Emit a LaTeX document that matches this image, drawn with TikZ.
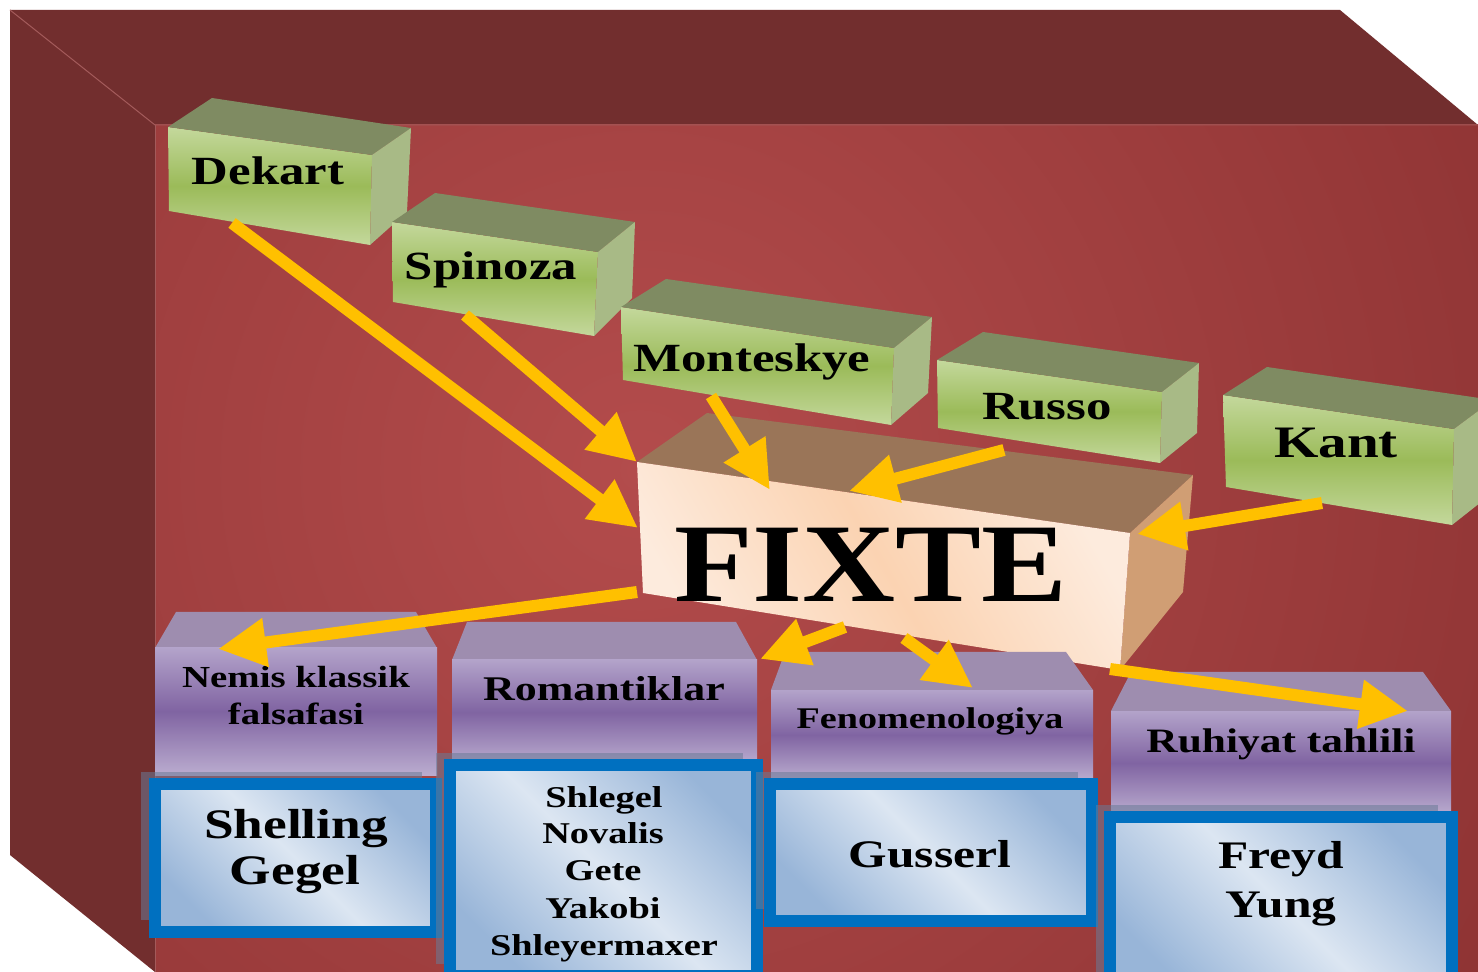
\documentclass[tikz,border=0pt]{standalone}
\usepackage{fontspec}
\setmainfont{Liberation Serif}[FakeStretch=1.27]
\newfontfamily\fixtefont{Liberation Serif}[FakeStretch=1.15]
\usetikzlibrary{arrows.meta}

\definecolor{wallfront}{HTML}{8E3333}
\definecolor{wallglow}{HTML}{B34C4C}
\definecolor{wallside}{HTML}{722E2E}
\definecolor{walledge}{HTML}{A35A5A}
\definecolor{greenlight}{HTML}{C4D89C}
\definecolor{greendark}{HTML}{9BBB59}
\definecolor{greenlid}{HTML}{7F8B62}
\definecolor{greenside}{HTML}{A8BA86}
\definecolor{violetlight}{HTML}{B3A3CA}
\definecolor{violetdark}{HTML}{8064A2}
\definecolor{violetlid}{HTML}{9E8DAF}
\definecolor{bluelight}{HTML}{DCE6F2}
\definecolor{bluedark}{HTML}{98B5D8}
\definecolor{blueframe}{HTML}{0070C0}
\definecolor{blueshadow}{HTML}{6A7A96}
\definecolor{peachlight}{HTML}{FDEBDD}
\definecolor{peachdark}{HTML}{FBD3B2}
\definecolor{peachlid}{HTML}{9A7558}
\definecolor{peachside}{HTML}{D09E74}
\definecolor{arrowgold}{HTML}{FFC000}

\begin{document}
\begin{tikzpicture}[x=0.5pt,y=-0.5pt]
\tikzstyle{leafface}=[top color=greenlight, bottom color=greenlight, middle color=greendark]
\tikzstyle{leaflid}=[fill=greenlid]
\tikzstyle{leafside}=[fill=greenside]
\tikzstyle{plumface}=[top color=violetlight, bottom color=violetlight!90!white, middle color=violetdark]
\tikzstyle{plumlid}=[fill=violetlid]
\tikzstyle{namecard}=[draw=blueframe, line width=6pt, left color=bluedark, right color=bluedark, middle color=bluelight, shading angle=135]
\tikzstyle{cardshadow}=[fill=blueshadow, fill opacity=0.55]
\tikzstyle{flow}=[draw=arrowgold, line width=6pt, -{Triangle[length=24pt,width=23pt]}]
\tikzstyle{leaftext}=[font=\bfseries\fontsize{20}{24}\selectfont, anchor=base]
\tikzstyle{plumtext}=[font=\bfseries\fontsize{15.3}{18}\selectfont, anchor=base]
\tikzstyle{cardtext}=[font=\bfseries\fontsize{19.5}{23}\selectfont, anchor=base]

\useasboundingbox (0,0) rectangle (1478,972);
\clip (0,0) rectangle (1478,972);

% Outer box
\fill[white] (0,0) rectangle (1478,972);
\fill[wallside] (10,10) -- (1340,10) -- (1478,125) -- (155,125) -- cycle;
\fill[wallside] (10,10) -- (155,125) -- (155,972) -- (10,855) -- cycle;
\begin{scope}
\clip (155,125) rectangle (1478,972);
\shade[inner color=wallglow, outer color=wallfront] (640,470) circle (1000);
\end{scope}
\draw[walledge, line width=0.5pt] (10,10) -- (155,125) -- (1478,125);
\draw[walledge, line width=0.5pt] (155,125) -- (155,972);

% Thinkers
\path[leafface] (168,127) -- (372,155) -- (370,245) -- (169,211) -- cycle;
\path[leaflid] (168,127) -- (212,98) -- (411,128) -- (372,155) -- cycle;
\path[leafside] (372,155) -- (411,128) -- (407,212) -- (370,245) -- cycle;

\path[leafface] (392,222) -- (598,252) -- (594,336) -- (393,302) -- cycle;
\path[leaflid] (392,222) -- (435,193) -- (635,222) -- (598,252) -- cycle;
\path[leafside] (598,252) -- (635,222) -- (632,298) -- (594,336) -- cycle;

\path[leafface] (621,307) -- (894,348) -- (891,425) -- (623,380) -- cycle;
\path[leaflid] (621,307) -- (666,279) -- (932,317) -- (894,348) -- cycle;
\path[leafside] (894,348) -- (932,317) -- (928,393) -- (891,425) -- cycle;

\path[leafface] (937,360) -- (1162,392) -- (1160,463) -- (938,428) -- cycle;
\path[leaflid] (937,360) -- (983,332) -- (1199,363) -- (1162,392) -- cycle;
\path[leafside] (1162,392) -- (1199,363) -- (1197,433) -- (1160,463) -- cycle;

\path[leafface] (1223,395) -- (1454,429) -- (1452,525) -- (1226,487) -- cycle;
\path[leaflid] (1223,395) -- (1267,367) -- (1493,400) -- (1454,429) -- cycle;
\path[leafside] (1454,429) -- (1493,400) -- (1490,495) -- (1452,525) -- cycle;

\node[leaftext] (dekart) at (268,185) {Dekart};
\node[leaftext] (spinoza) at (491,280) {Spinoza};
\node[leaftext] (monteskye) at (752,372) {Monteskye};
\node[leaftext] (russo) at (1047,420) {Russo};
\node[leaftext, font=\bfseries\fontsize{22.5}{27}\selectfont] (kant) at (1336,458) {Kant};

% Fixte
\path[fill=peachlid] (637,462) -- (707,413) -- (1193,475) -- (1130,533) -- cycle;
\path[fill=peachside] (1130,533) -- (1193,475) -- (1183,592) -- (1120,670) -- cycle;
\path[left color=peachlight, right color=peachlight, middle color=peachdark, shading angle=120]
  (637,462) -- (1130,533) -- (1120,670) -- (643,593) -- cycle;
\node[anchor=base, font=\fixtefont\bfseries\fontsize{56}{60}\selectfont] (fixte) at (871,602) {FIXTE};

% Schools
\path[plumlid] (155,648) -- (176,612) -- (416,612) -- (437,648) -- cycle;
\path[plumface] (155,648) rectangle (437,775);
\path[plumlid] (452,660) -- (467,622) -- (736,622) -- (757,660) -- cycle;
\path[plumface] (452,660) rectangle (757,765);
\path[plumlid] (771,690) -- (785,652) -- (1066,652) -- (1093,690) -- cycle;
\path[plumface] (771,690) rectangle (1093,780);
\path[plumlid] (1111,711) -- (1131,672) -- (1423,672) -- (1451,711) -- cycle;
\path[plumface] (1111,711) rectangle (1451,815);

\node[plumtext] (nemis) at (296,688) {Nemis klassik};
\node[plumtext] (falsafa) at (296,725) {falsafasi};
\node[plumtext, font=\bfseries\fontsize{17.3}{20}\selectfont] (romantik) at (604,700) {Romantiklar};
\node[plumtext, font=\bfseries\fontsize{15}{18}\selectfont] (fenomen) at (930,728) {Fenomenologiya};
\node[plumtext, font=\bfseries\fontsize{17.1}{20}\selectfont] (ruhiyat) at (1281,752) {Ruhiyat tahlili};

% Names
\fill[cardshadow] (141,772) rectangle (422,920);
\path[namecard] (155,784) rectangle (436,932);
\fill[cardshadow] (436,753) rectangle (743,964);
\path[namecard] (450,765) rectangle (757,976);
\fill[cardshadow] (756,772) rectangle (1078,909);
\path[namecard] (770,784) rectangle (1092,921);
\fill[cardshadow] (1096,805) rectangle (1438,975);
\path[namecard] (1110,817) rectangle (1452,990);

\node[cardtext, font=\bfseries\fontsize{21}{25}\selectfont] (shelling) at (296,838) {Shelling};
\node[cardtext, font=\bfseries\fontsize{21}{25}\selectfont] (gegel) at (295,884) {Gegel};
\node[cardtext, font=\bfseries\fontsize{15.1}{18}\selectfont] (shlegel) at (604,807) {Shlegel};
\node[cardtext, font=\bfseries\fontsize{15.1}{18}\selectfont] (novalis) at (603,843) {Novalis};
\node[cardtext, font=\bfseries\fontsize{15.1}{18}\selectfont] (gete) at (603,880) {Gete};
\node[cardtext, font=\bfseries\fontsize{15.1}{18}\selectfont] (yakobi) at (603,918) {Yakobi};
\node[cardtext, font=\bfseries\fontsize{15.1}{18}\selectfont] (shleyer) at (604,955) {Shleyermaxer};
\node[cardtext] (gusserl) at (930,867) {Gusserl};
\node[cardtext] (freyd) at (1281,868) {Freyd};
\node[cardtext] (yung) at (1281,917) {Yung};

% Arrow ends
\coordinate (dekart-out) at (232,223);
\coordinate (spinoza-out) at (465,315);
\coordinate (monteskye-out) at (711,396);
\coordinate (russo-out) at (1004,450);
\coordinate (kant-out) at (1322,503);
\coordinate (fixte-left) at (638,528);
\coordinate (fixte-corner) at (637,462);
\coordinate (fixte-top1) at (770,490);
\coordinate (fixte-top2) at (849,491);
\coordinate (fixte-right) at (1137,534);
\coordinate (fixte-out1) at (637,592);
\coordinate (fixte-out2) at (845,627);
\coordinate (fixte-out3) at (904,638);
\coordinate (fixte-out4) at (1110,669);
\coordinate (nemis-in) at (218,649);
\coordinate (romantik-in) at (760,659);
\coordinate (fenomen-in) at (973,688);
\coordinate (ruhiyat-in) at (1408,711);

% Influence flow
\draw[flow] (dekart-out) -- (fixte-left);
\draw[flow] (spinoza-out) -- (fixte-corner);
\draw[flow] (monteskye-out) -- (fixte-top1);
\draw[flow] (russo-out) -- (fixte-top2);
\draw[flow] (kant-out) -- (fixte-right);
\draw[flow] (fixte-out1) -- (nemis-in);
\draw[flow] (fixte-out2) -- (romantik-in);
\draw[flow] (fixte-out3) -- (fenomen-in);
\draw[flow] (fixte-out4) -- (ruhiyat-in);
\end{tikzpicture}
\end{document}
